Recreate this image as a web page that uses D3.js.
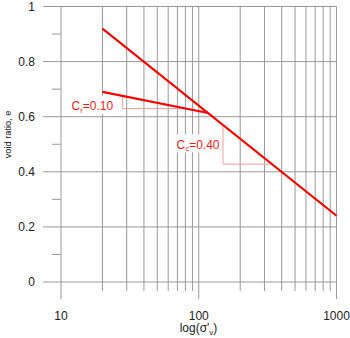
<!DOCTYPE html>
<html>
<head>
<meta charset="utf-8">
<script src="https://cdn.jsdelivr.net/npm/d3@7"></script>
<style>
  html, body { margin: 0; padding: 0; background: #fff; }
  svg { display: block; font-family: "Liberation Sans", Arial, sans-serif; }
</style>
</head>
<body>
<svg id="chart" width="350" height="338"></svg>
<script>
// Consolidation curve: void ratio vs log effective vertical stress
const majorStress = [10, 100, 1000];
const minorStress = [20, 30, 40, 50, 60, 70, 80, 90, 200, 300, 400, 500, 600, 700, 800, 900];
const xTickLabels = ["10", "100", "1000"];
const eMajor = [0, 0.2, 0.4, 0.6, 0.8, 1];
const eMinor = [0.1, 0.3, 0.5, 0.7, 0.9];
const yTickLabels = ["0", "0.2", "0.4", "0.6", "0.8", "1"];

// Compression index and recompression index
const Cc = 0.40;
const Cr = 0.10;
// Starting stress and void ratios of the two branches
const sigmaStart = 20;
const eStartNC = 0.92;   // virgin compression line at sigmaStart
const eStartRC = 0.69;   // recompression line at sigmaStart
const sigmaEnd = 1000;
// Slope triangles: [stress at left corner, stress at right corner]
const triangleRC = [28, 80];
const triangleNC = [150, 340];

const svg = d3.select("#chart");
const x = d3.scaleLog().domain([10, 1000]).range([61, 336.5]);
const y = d3.scaleLinear().domain([0, 1]).range([282, 6.5]);

const eNC = s => eStartNC - Cc * Math.log10(s / sigmaStart);
const eRC = s => eStartRC - Cr * Math.log10(s / sigmaStart);
// preconsolidation stress where the two branches meet
const sigmaP = sigmaStart * Math.pow(10, (eStartNC - eStartRC) / (Cc - Cr));

const grid = svg.append("g");
// horizontal grid lines (extend left past the plot as major ticks)
grid.selectAll("line.h").data(eMajor).join("line")
  .attr("x1", 43).attr("x2", x(1000))
  .attr("y1", d => y(d)).attr("y2", d => y(d))
  .attr("stroke", "#9a9a9a").attr("stroke-width", 1);
// minor y ticks
grid.selectAll("line.hm").data(eMinor).join("line")
  .attr("x1", 52).attr("x2", x(10))
  .attr("y1", d => y(d)).attr("y2", d => y(d))
  .attr("stroke", "#9a9a9a").attr("stroke-width", 1);
// vertical grid lines
grid.selectAll("line.vmaj").data(majorStress).join("line")
  .attr("x1", d => x(d)).attr("x2", d => x(d))
  .attr("y1", y(1)).attr("y2", 299)
  .attr("stroke", "#9a9a9a").attr("stroke-width", 1);
grid.selectAll("line.vmin").data(minorStress).join("line")
  .attr("x1", d => x(d)).attr("x2", d => x(d))
  .attr("y1", y(1)).attr("y2", 291)
  .attr("stroke", "#9a9a9a").attr("stroke-width", 1);

// tick labels
svg.append("g").selectAll("text").data(eMajor).join("text")
  .attr("x", 35).attr("y", d => y(d)).attr("dy", "0.36em")
  .attr("text-anchor", "end").attr("font-size", 12).attr("fill", "#222")
  .text((d, i) => yTickLabels[i]);
svg.append("g").selectAll("text").data(majorStress).join("text")
  .attr("x", d => x(d)).attr("y", 319.5)
  .attr("text-anchor", "middle").attr("font-size", 12).attr("fill", "#222")
  .text((d, i) => xTickLabels[i]);

// axis titles
const xt = svg.append("text").attr("x", 198.5).attr("y", 332)
  .attr("text-anchor", "middle").attr("font-size", 12).attr("fill", "#222");
xt.append("tspan").text("log(σ'");
xt.append("tspan").attr("font-size", 8).attr("dy", 3).text("v");
xt.append("tspan").attr("dy", -3).text(")");

svg.append("text")
  .attr("transform", "translate(10.5,134.5) rotate(-90)")
  .attr("text-anchor", "middle").attr("font-size", 9.2).attr("fill", "#222")
  .text("void ratio, e");

// slope triangles
function triangle(fn, pair) {
  const [s1, s2] = pair;
  return [[x(s1), y(fn(s1))], [x(s1), y(fn(s2))], [x(s2), y(fn(s2))]];
}
const line = d3.line();
[[eRC, triangleRC], [eNC, triangleNC]].forEach(([fn, pair]) => {
  svg.append("path").attr("d", line(triangle(fn, pair)))
    .attr("fill", "none").attr("stroke", "#ff9f9f").attr("stroke-width", 1);
});

// labels with white backgrounds
function label(px, py, sub, val) {
  const g = svg.append("g");
  const t = g.append("text").attr("x", px).attr("y", py)
    .attr("font-size", 12).attr("fill", "#ff1a1a");
  t.append("tspan").text("C");
  t.append("tspan").attr("font-size", 8).attr("dy", 2.5).text(sub);
  t.append("tspan").attr("dy", -2.5).text("=" + val);
  const bb = t.node().getBBox();
  g.insert("rect", "text")
    .attr("x", bb.x - 2).attr("y", py - 14)
    .attr("width", bb.width + 4).attr("height", 18)
    .attr("fill", "#fff");
}
label(71.5, 110, "r", Cr.toFixed(2));
label(176.5, 148.5, "c", Cc.toFixed(2));

// consolidation branches
svg.append("path")
  .attr("d", line([sigmaStart, sigmaEnd].map(s => [x(s), y(eNC(s))])))
  .attr("fill", "none").attr("stroke", "#ff0000").attr("stroke-width", 2.2);
svg.append("path")
  .attr("d", line([sigmaStart, sigmaP].map(s => [x(s), y(eRC(s))])))
  .attr("fill", "none").attr("stroke", "#ff0000").attr("stroke-width", 2.2);
</script>
</body>
</html>
